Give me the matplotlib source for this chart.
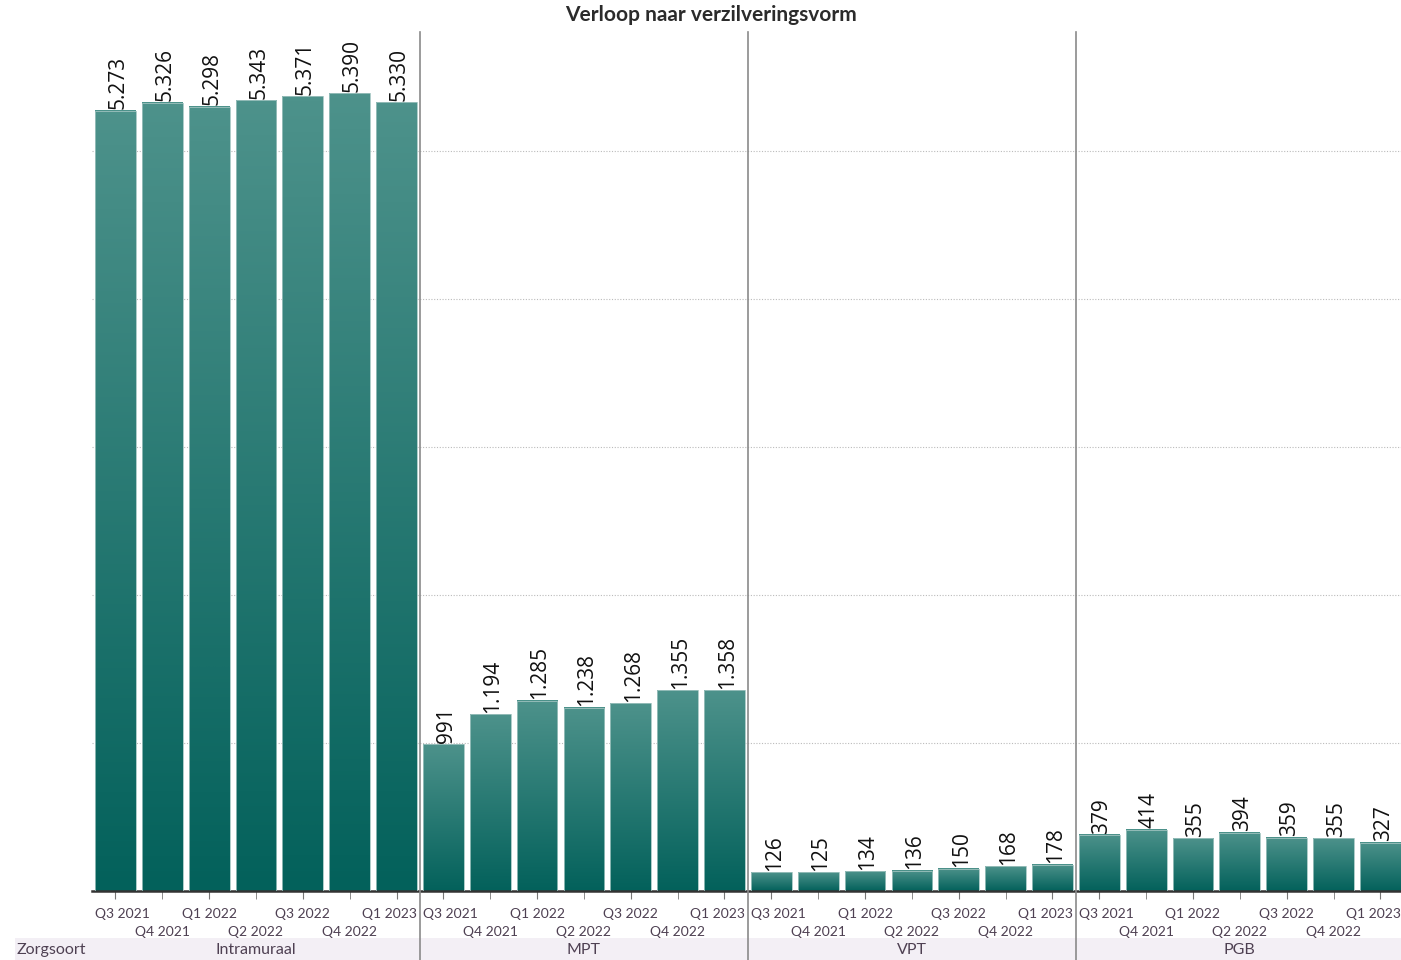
import numpy as np
import matplotlib.pyplot as plt
from matplotlib.colors import LinearSegmentedColormap
from matplotlib.patches import Rectangle
from matplotlib.transforms import blended_transform_factory, ScaledTranslation

plt.rcParams["font.family"] = ["Lato", "DejaVu Sans"]

# Quarterly counts per care type (Zorgsoort)
quarters = ["Q3 2021", "Q4 2021", "Q1 2022", "Q2 2022", "Q3 2022", "Q4 2022", "Q1 2023"]
zorgsoorten = ["Intramuraal", "MPT", "VPT", "PGB"]
intramuraal = [5273, 5326, 5298, 5343, 5371, 5390, 5330]
mpt = [991, 1194, 1285, 1238, 1268, 1355, 1358]
vpt = [126, 125, 134, 136, 150, 168, 178]
pgb = [379, 414, 355, 394, 359, 355, 327]

series = [intramuraal, mpt, vpt, pgb]
values = [v for s in series for v in s]
n_q = len(quarters)
x = np.arange(len(values))

BAR_W = 0.87
TOP_COL = "#4d928b"
BOT_COL = "#03615b"
TEXT_COL = "#4e4052"
YMAX = 5804

cmap = LinearSegmentedColormap.from_list("teal", [BOT_COL, TOP_COL])
grad = np.linspace(0, 1, 256).reshape(-1, 1)

fig = plt.figure(figsize=(14.01, 9.6), dpi=100)
ax = fig.add_axes([92 / 1401, 69 / 960, 1309 / 1401, 859 / 960])

# gradient-filled bars
for xi, v in zip(x, values):
    x0, x1 = xi - BAR_W / 2, xi + BAR_W / 2
    ax.imshow(grad, cmap=cmap, origin="lower", aspect="auto",
              extent=[x0, x1, 0, v], zorder=2, interpolation="bilinear")
    ax.add_patch(Rectangle((x0, 0), BAR_W, v, facecolor="none",
                           edgecolor="#9fc3bf", lw=0.6, zorder=3))
    label = f"{v:,}".replace(",", ".")
    ax.annotate(label, (xi, v), xytext=(2, 1), textcoords="offset points",
                rotation=90, ha="center", va="bottom", fontsize=15,
                color="#111111", family=["Open Sans", "DejaVu Sans"])

ax.set_xlim(-0.5, len(values) - 0.56)
ax.set_ylim(0, YMAX)

# dotted gridlines, no y labels
ax.set_yticks([1000, 2000, 3000, 4000, 5000])
ax.yaxis.grid(True, linestyle=(0, (1, 1.5)), color="#bbbbbb", lw=0.8, zorder=0)
ax.tick_params(axis="y", which="both", left=False, labelleft=False)

for side in ["top", "right", "left"]:
    ax.spines[side].set_visible(False)
ax.spines["bottom"].set_color("#333333")
ax.spines["bottom"].set_linewidth(1.8)

# staggered quarter labels: even quarters on the first row, odd ones below
labels = quarters * len(zorgsoorten)
upper = [i for i in x if i % n_q % 2 == 0]
lower = [i for i in x if i % n_q % 2 == 1]
ax.set_xticks(upper)
ax.set_xticklabels([labels[i] for i in upper], fontsize=10, color=TEXT_COL)
ax.set_xticks(lower, minor=True)
ax.set_xticklabels([labels[i] for i in lower], minor=True, fontsize=10,
                   color=TEXT_COL)
ax.tick_params(axis="x", which="major", length=6, color="#777777", pad=6)
ax.tick_params(axis="x", which="minor", length=6, color="#777777", pad=19)

# keep the outer labels of each panel inside the panel
nudge_r = ScaledTranslation(7 / 100, 0, fig.dpi_scale_trans)
nudge_l = ScaledTranslation(-7 / 100, 0, fig.dpi_scale_trans)
for i, lab in zip(upper, ax.get_xticklabels()):
    if i % n_q == 0:
        lab.set_transform(lab.get_transform() + nudge_r)
    elif i % n_q == n_q - 1:
        lab.set_transform(lab.get_transform() + nudge_l)

# panel separators running down through the category strip
trans = blended_transform_factory(ax.transData, ax.transAxes)
for k in range(1, len(zorgsoorten)):
    sep = k * n_q - 0.5
    ax.plot([sep, sep], [-0.08, 1.0], transform=trans, color="#8a8a8a",
            lw=1.2, clip_on=False, zorder=4)

# category strip at the bottom
fig.patches.append(Rectangle((15 / 1401, 0), 1 - 15 / 1401, 22 / 960,
                             transform=fig.transFigure, facecolor="#f3eff5",
                             edgecolor="none", zorder=-1))
fig.text(17 / 1401, 10 / 960, "Zorgsoort", ha="left", va="center",
         fontsize=11.5, color=TEXT_COL)
for k, name in enumerate(zorgsoorten):
    ax.text(k * n_q + (n_q - 1) / 2, -0.0686, name, transform=trans,
            ha="center", va="center", fontsize=11.5, color=TEXT_COL)

fig.text(711 / 1401, 1 - 15 / 960, "Verloop naar verzilveringsvorm",
         ha="center", va="center", fontsize=15, fontweight="bold",
         color="#2b2b2b")

fig.savefig("out.png", dpi=100)
